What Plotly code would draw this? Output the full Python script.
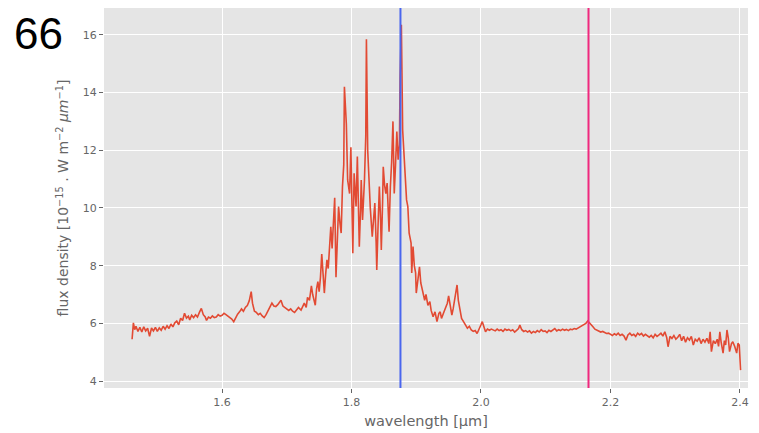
import plotly.graph_objects as go

wavelength = [
    1.461, 1.463, 1.465, 1.467, 1.470, 1.473, 1.476, 1.479, 1.482, 1.485, 1.488, 1.491, 1.494, 1.497,
    1.500, 1.503, 1.506, 1.509, 1.512, 1.515, 1.518, 1.521, 1.524, 1.527, 1.530, 1.533, 1.536, 1.539,
    1.542, 1.545, 1.548, 1.550, 1.553, 1.556, 1.559, 1.562, 1.565, 1.568, 1.571, 1.574, 1.576, 1.579,
    1.582, 1.585, 1.588, 1.591, 1.594, 1.597,
    1.600, 1.603, 1.606, 1.609, 1.612, 1.615, 1.618, 1.621, 1.624, 1.627, 1.630, 1.633, 1.636, 1.639,
    1.642, 1.645, 1.647, 1.650, 1.653, 1.656, 1.659, 1.662, 1.665, 1.668, 1.671, 1.674, 1.677, 1.680,
    1.683, 1.686, 1.689, 1.691, 1.694, 1.697, 1.700, 1.703, 1.706, 1.709, 1.712, 1.715, 1.718,
    1.722, 1.725, 1.727, 1.730, 1.732, 1.735, 1.738, 1.740, 1.742, 1.744, 1.746, 1.748, 1.750, 1.752,
    1.754, 1.756, 1.758, 1.760, 1.762, 1.764, 1.766, 1.768, 1.770, 1.772, 1.774, 1.776, 1.778, 1.780,
    1.782, 1.784, 1.786, 1.788, 1.789, 1.791, 1.792, 1.794, 1.797, 1.799, 1.801, 1.802, 1.804, 1.806,
    1.807, 1.809, 1.811, 1.812, 1.814, 1.815, 1.817, 1.819, 1.820, 1.822, 1.823, 1.825, 1.827, 1.829,
    1.832, 1.834, 1.836, 1.838, 1.839, 1.841, 1.843, 1.845, 1.846, 1.848, 1.849, 1.851, 1.853, 1.855,
    1.857, 1.858, 1.860, 1.862, 1.864, 1.866, 1.868, 1.870, 1.872, 1.874, 1.875, 1.877, 1.879, 1.881,
    1.883, 1.885, 1.887, 1.889, 1.891, 1.892, 1.893, 1.895, 1.897, 1.899, 1.900, 1.902, 1.905, 1.907,
    1.910, 1.913, 1.915, 1.918, 1.921, 1.923, 1.926, 1.929, 1.932, 1.935, 1.937, 1.939, 1.942, 1.945,
    1.948, 1.950, 1.953, 1.955, 1.957, 1.960, 1.963, 1.965, 1.967, 1.970, 1.973, 1.976, 1.979, 1.982,
    1.985, 1.988, 1.991, 1.994, 1.997, 2.000, 2.002, 2.005, 2.007, 2.010, 2.013, 2.016, 2.019,
    2.022, 2.025, 2.028, 2.031, 2.034, 2.037, 2.040, 2.043, 2.046, 2.049, 2.052, 2.055, 2.058, 2.060,
    2.063, 2.066, 2.069, 2.072, 2.075, 2.078, 2.081, 2.084, 2.087, 2.090, 2.093, 2.096, 2.099, 2.102,
    2.105, 2.108, 2.111, 2.114, 2.117, 2.120, 2.123, 2.126, 2.129, 2.132, 2.135, 2.138, 2.141, 2.144,
    2.147, 2.150, 2.153, 2.156, 2.159, 2.162, 2.165, 2.167, 2.170, 2.173, 2.176, 2.179, 2.182, 2.185,
    2.188, 2.191, 2.194, 2.197, 2.200, 2.203, 2.206, 2.209, 2.212, 2.215, 2.218, 2.221, 2.224, 2.227,
    2.230, 2.233, 2.236, 2.239, 2.242, 2.245, 2.248, 2.251, 2.254, 2.257, 2.260, 2.263, 2.266, 2.269,
    2.272, 2.275, 2.278, 2.281, 2.284, 2.287, 2.289, 2.292, 2.295, 2.298, 2.301, 2.304, 2.307, 2.310,
    2.313, 2.316, 2.319, 2.322, 2.325, 2.328, 2.331, 2.334, 2.337, 2.340, 2.343, 2.346, 2.349, 2.352,
    2.354, 2.356, 2.359, 2.362, 2.365, 2.367, 2.369, 2.371, 2.374, 2.376, 2.378, 2.380, 2.382, 2.384,
    2.387, 2.389, 2.392, 2.395, 2.397, 2.399, 2.401,
]

flux = [
    5.45, 6.02, 5.78, 5.90, 5.72, 5.86, 5.70, 5.88, 5.74, 5.83, 5.55, 5.84, 5.74, 5.86,
    5.72, 5.84, 5.76, 5.90, 5.80, 5.92, 5.82, 5.98, 5.88, 6.02, 6.08, 5.95, 6.18, 6.10,
    6.35, 6.18, 6.25, 6.12, 6.28, 6.20, 6.30, 6.22, 6.38, 6.52, 6.30, 6.22, 6.10, 6.22,
    6.18, 6.26, 6.20, 6.22, 6.30, 6.25,
    6.28, 6.35, 6.30, 6.26, 6.22, 6.15, 6.06, 6.22, 6.32, 6.40, 6.50, 6.42, 6.55, 6.62,
    6.78, 7.10, 6.70, 6.42, 6.38, 6.30, 6.35, 6.26, 6.20, 6.30, 6.45, 6.55, 6.70, 6.60,
    6.58, 6.65, 6.75, 6.80, 6.60, 6.55, 6.52, 6.45, 6.50, 6.42, 6.38, 6.45, 6.55,
    6.46, 6.60, 6.70, 6.55, 6.90, 6.80, 7.30, 7.00, 6.85, 6.63, 7.20, 7.45, 7.10, 7.60,
    8.40, 7.70, 7.05, 7.70, 8.20, 7.90, 8.70, 9.35, 8.60, 9.60, 10.35, 7.60, 9.20, 10.05,
    9.50, 9.13, 10.74, 11.50, 14.20, 13.00, 12.90, 10.97, 10.50, 12.10, 10.20, 8.43, 11.20, 10.30,
    10.05, 11.78, 10.20, 8.66, 10.00, 10.97, 9.58, 10.40, 10.97, 12.50, 15.85, 12.00, 10.74, 10.00,
    9.00, 9.80, 10.17, 8.80, 7.85, 9.40, 10.74, 9.50, 8.54, 10.20, 11.43, 10.80, 10.50, 10.86,
    9.83, 9.18, 10.74, 11.60, 13.00, 10.50, 11.50, 12.65, 11.67, 12.20, 14.50, 16.35, 12.70, 11.80,
    10.97, 10.28, 10.05, 9.13, 8.90, 8.78, 7.75, 8.66, 8.00, 7.75, 7.05, 7.50, 7.96, 7.40,
    7.05, 6.80, 7.00, 6.62, 6.75, 6.45, 6.23, 6.40, 6.06, 6.35, 6.40, 6.17, 6.35, 6.52,
    6.70, 6.95, 6.60, 6.29, 6.50, 7.00, 7.33, 6.80, 6.58, 6.17, 6.06, 5.95, 5.83, 5.90,
    5.77, 5.72, 5.75, 5.65, 5.78, 5.95, 6.06, 5.85, 5.71, 5.80, 5.76, 5.80, 5.76,
    5.74, 5.80, 5.75, 5.78, 5.72, 5.80, 5.76, 5.79, 5.74, 5.78, 5.70, 5.76, 5.82, 5.94,
    5.78, 5.72, 5.75, 5.70, 5.74, 5.66, 5.72, 5.68, 5.75, 5.70, 5.78, 5.72, 5.74, 5.68,
    5.76, 5.72, 5.78, 5.82, 5.74, 5.78, 5.75, 5.80, 5.76, 5.79, 5.75, 5.80, 5.78, 5.82,
    5.80, 5.84, 5.88, 5.92, 5.96, 6.00, 6.08, 6.02, 5.95, 5.88, 5.80, 5.76, 5.74, 5.70,
    5.72, 5.68, 5.65, 5.66, 5.62, 5.58, 5.64, 5.60, 5.66, 5.58, 5.62, 5.56, 5.42, 5.60,
    5.66, 5.58, 5.62, 5.55, 5.66, 5.60, 5.65, 5.56, 5.62, 5.58, 5.52, 5.58, 5.50, 5.62,
    5.55, 5.60, 5.66, 5.56, 5.71, 5.50, 5.19, 5.55, 5.48, 5.58, 5.45, 5.52, 5.62, 5.40,
    5.55, 5.35, 5.50, 5.42, 5.55, 5.25, 5.45, 5.38, 5.50, 5.30, 5.45, 5.35, 5.48, 5.30,
    5.71, 5.02, 5.40, 5.30, 5.45, 5.20, 5.71, 5.35, 4.97, 5.40, 5.25, 5.77, 5.50, 5.02,
    5.30, 5.36, 5.20, 4.97, 5.31, 5.25, 4.38,
]

line_markers = [1.8756, 2.1661]
line_colors = ["#4A66EE", "#F0287E"]

x_ticks = [1.6, 1.8, 2.0, 2.2, 2.4]
y_ticks = [4, 6, 8, 10, 12, 14, 16]

fig = go.Figure()
fig.add_trace(go.Scatter(
    x=wavelength, y=flux, mode="lines",
    line=dict(color="#E24A33", width=1.6),
    hoverinfo="skip", showlegend=False,
))

for xm, col in zip(line_markers, line_colors):
    fig.add_shape(type="line", xref="x", yref="paper", x0=xm, x1=xm, y0=0, y1=1,
                  line=dict(color=col, width=2))

fig.add_annotation(text="66", xref="paper", yref="paper", x=-0.141, y=1.0,
                   xanchor="left", yanchor="top", showarrow=False, borderpad=0,
                   font=dict(family="Liberation Sans, Arial, sans-serif", size=44, color="#000000"))

axis_common = dict(
    showgrid=True, gridcolor="#FFFFFF", gridwidth=1.2,
    zeroline=False, showline=False, automargin=False,
    ticks="outside", ticklen=4, tickwidth=1, tickcolor="#666666",
    tickfont=dict(family="DejaVu Sans, sans-serif", size=11, color="#666666"),
)

fig.update_layout(
    width=751, height=425,
    margin=dict(l=96, r=11, t=0, b=45, autoexpand=False),
    paper_bgcolor="#FFFFFF", plot_bgcolor="#E5E5E5",
    xaxis=dict(
        range=[1.4176, 2.4125], tickvals=x_ticks,
        ticktext=[f"{v:.1f}" for v in x_ticks],
        title=dict(text="wavelength [\u03bcm]", standoff=7,
                   font=dict(family="DejaVu Sans, sans-serif", size=14.5, color="#666666")),
        **axis_common,
    ),
    yaxis=dict(
        range=[3.76, 16.93], tickvals=y_ticks,
        ticktext=[str(v) for v in y_ticks],
        title=dict(text="flux density [10<sup>\u221215</sup> . W m<sup>\u22122</sup> <i>\u03bcm</i><sup>\u22121</sup>]",
                   standoff=10,
                   font=dict(family="DejaVu Sans, sans-serif", size=14, color="#666666")),
        **axis_common,
    ),
)

fig.write_html("out.html")
